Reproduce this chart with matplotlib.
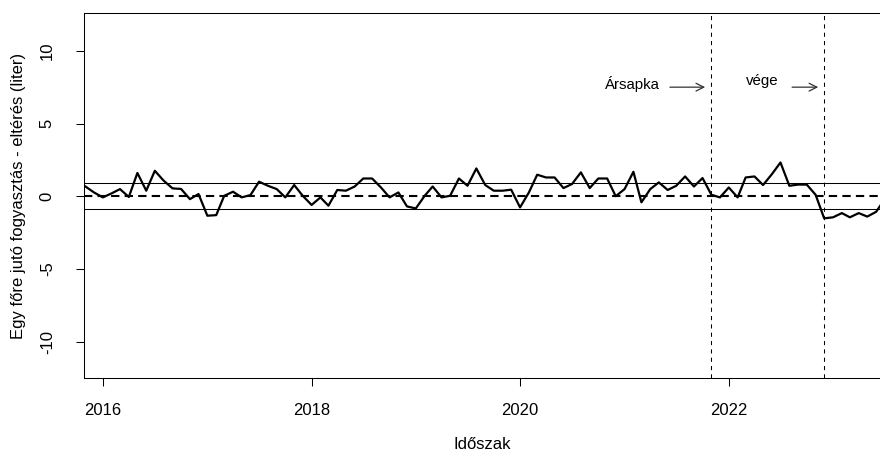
import matplotlib as mpl
import matplotlib.pyplot as plt
import matplotlib.dates as mdates
import pandas as pd

mpl.rcParams['font.family'] = ['Liberation Sans', 'DejaVu Sans']
mpl.rcParams['font.size'] = 12

# monthly deviation, starting Nov 2015
values = [0.67, 0.26, -0.08, 0.2, 0.49, -0.05, 1.6, 0.38, 1.75, 1.07,
          0.54, 0.5, -0.2, 0.15, -1.34, -1.3, 0.03, 0.31, -0.08, 0.08,
          1.0, 0.72, 0.49, -0.08, 0.77, 0.03, -0.6, -0.08, -0.65, 0.43,
          0.38, 0.67, 1.22, 1.22, 0.6, -0.08, 0.26, -0.7, -0.84, 0.03,
          0.67, -0.08, 0.03, 1.22, 0.72, 1.91, 0.77, 0.38, 0.38, 0.45,
          -0.77, 0.26, 1.48, 1.29, 1.29, 0.56, 0.84, 1.64, 0.56, 1.22,
          1.22, 0.0, 0.49, 1.68, -0.42, 0.49, 0.95, 0.43, 0.72, 1.36,
          0.67, 1.25, 0.1, -0.08, 0.6, -0.08, 1.29, 1.36, 0.77, 1.52,
          2.32, 0.72, 0.8, 0.8, 0.1, -1.52, -1.45, -1.16, -1.45, -1.16,
          -1.4, -1.07, -0.2]
dates = pd.date_range('2015-11-01', periods=len(values), freq='MS')

band = 0.9
cap_start = pd.Timestamp('2021-11-01')
cap_end = pd.Timestamp('2022-12-01')
year_ticks = ['2016', '2018', '2020', '2022']
y_ticks = [-10, -5, 0, 5, 10]

fig = plt.figure(figsize=(8.8, 4.55), dpi=100)
ax = fig.add_axes([84 / 880, 1 - 378 / 455, 797 / 880, 365 / 455])

ax.plot(dates, values, color='black', linewidth=1.6)
ax.axhline(0, color='black', linewidth=1.5, linestyle=(0, (4, 2.5)))
ax.axhline(band, color='black', linewidth=0.75)
ax.axhline(-band, color='black', linewidth=0.75)
ax.axvline(cap_start, color='black', linewidth=0.75, linestyle=(0, (4, 4)))
ax.axvline(cap_end, color='black', linewidth=0.75, linestyle=(0, (4, 4)))

ax.annotate('', xy=(pd.Timestamp('2021-10-20'), 7.5), xytext=(pd.Timestamp('2021-05-30'), 7.5),
            arrowprops=dict(arrowstyle='->', color='#333333', lw=0.9, mutation_scale=14))
ax.text(pd.Timestamp('2021-05-03'), 7.75, 'Ársapka', ha='right', va='center', fontsize=10.8)
ax.annotate('', xy=(pd.Timestamp('2022-11-20'), 7.5), xytext=(pd.Timestamp('2022-08-01'), 7.5),
            arrowprops=dict(arrowstyle='->', color='#333333', lw=0.9, mutation_scale=14))
ax.text(pd.Timestamp('2022-04-27'), 7.95, 'vége', ha='center', va='center', fontsize=10.8)

ax.set_xlim(pd.Timestamp('2015-10-27'), pd.Timestamp('2023-06-18'))
ax.set_ylim(-12.5, 12.6)
ax.set_xticks([pd.Timestamp(y + '-01-01') for y in year_ticks])
ax.xaxis.set_major_formatter(mdates.DateFormatter('%Y'))
ax.set_yticks(y_ticks)
ax.set_yticklabels([str(v) for v in y_ticks], rotation=90, va='center')

ax.tick_params(length=6, width=0.75, color='black')
ax.tick_params(axis='x', pad=12)
ax.tick_params(axis='y', pad=15)
for s in ax.spines.values():
    s.set_linewidth(0.75)

ax.set_xlabel('Időszak', labelpad=14)
ax.set_ylabel('Egy főre jutó fogyasztás - eltérés (liter)', labelpad=10)

plt.savefig('out.png', dpi=100)
